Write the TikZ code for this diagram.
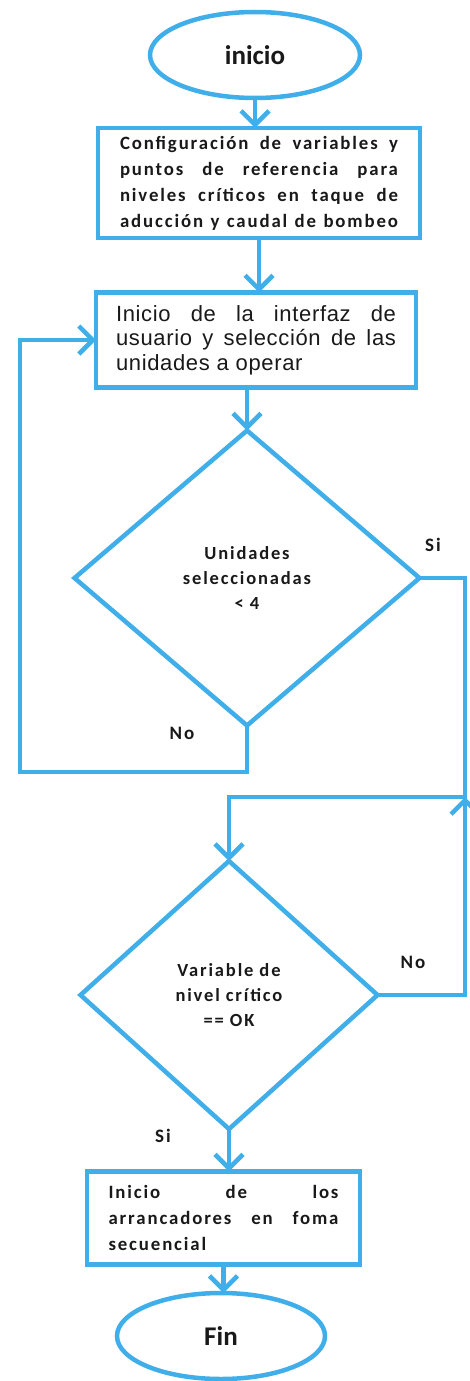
\documentclass[tikz,border=0pt]{standalone}
\usepackage{fontspec}
\setmainfont{Carlito}
\newfontfamily\cfont[LetterSpace=10]{Carlito}
\newfontfamily\afont[LetterSpace=3]{Liberation Sans}
\usetikzlibrary{shapes.geometric,arrows.meta}
\definecolor{fblue}{RGB}{64,174,232}
\definecolor{ink}{RGB}{25,25,25}
\begin{document}
\begin{tikzpicture}[x=1pt,y=-1pt,
  every node/.style={inner sep=0pt, outer sep=0pt, text=ink},
  term/.style={ellipse, draw=fblue, line width=4.5pt, fill=white, font=\bfseries\fontsize{27}{30}\selectfont},
  proc/.style={draw=fblue, line width=4.5pt, fill=white, align=left},
  dec/.style={diamond, draw=fblue, line width=4.5pt, fill=white, align=center, font=\cfont\bfseries\fontsize{18.5}{25}\selectfont},
  lbl/.style={font=\cfont\bfseries\fontsize{19}{20}\selectfont},
  arr/.style={draw=fblue, line width=4.5pt, -{Straight Barb[length=14pt,width=28pt]}},
]
\useasboundingbox (0,0) rectangle (469,1381);
\fill[white] (0,0) rectangle (469,1381);

\node[term, minimum width=210, minimum height=86] (inicio) at (255,55) {inicio};

\node[proc, minimum width=322, minimum height=110,
  font=\cfont\bfseries\fontsize{18.8}{26}\selectfont] (box1) at (259,183)
  {\makebox[278pt][s]{Configuración de variables y}\\
   \makebox[278pt][s]{puntos de referencia para}\\
   \makebox[278pt][s]{niveles críticos en taque de}\\
   \makebox[278pt][s]{aducción y caudal de bombeo}};

\node[proc, minimum width=320, minimum height=95,
  font=\afont\fontsize{22}{24.5}\selectfont] (box2) at (256,340)
  {\makebox[280pt][s]{Inicio de la interfaz de}\\
   \makebox[280pt][s]{usuario y selección de las}\\
   unidades a operar};

\node[dec, minimum width=345, minimum height=295] (d1) at (247,578)
  {Unidades\\seleccionadas\\< 4};

\node[dec, minimum width=297, minimum height=268] (d2) at (229,995)
  {Variable de\\nivel crítico\\== OK};

\node[proc, minimum width=273, minimum height=93,
  font=\cfont\bfseries\fontsize{18.8}{26}\selectfont] (box3) at (223.5,1218)
  {\makebox[230pt][s]{Inicio de los}\\
   \makebox[230pt][s]{arrancadores en foma}\\
   secuencial};

\node[term, minimum width=208, minimum height=86] (fin) at (221,1336) {Fin};

\node[lbl] (lsi1) at (433,545) {Si};
\node[lbl] (lno1) at (182,733) {No};
\node[lbl] (lno2) at (413,962) {No};
\node[lbl] (lsi2) at (163,1136) {Si};

\coordinate (noL) at (20,772);
\coordinate (siR) at (465,797);

\draw[arr] (inicio.south) -- (inicio.south |- box1.north);
\draw[arr] (box1.south) -- (box1.south |- box2.north);
\draw[arr] (box2.south -| d1.north) -- (d1.north);
\draw[arr] (d1.south) |- (noL) |- (box2.west);
\draw[arr] (d1.east) -| (siR) -| (d2.north);
\draw[arr] (d2.east) -| (siR);
\draw[arr] (d2.south) -- (d2.south |- box3.north);
\draw[arr] (box3.south) -- (box3.south |- fin.north);
\end{tikzpicture}
\end{document}
